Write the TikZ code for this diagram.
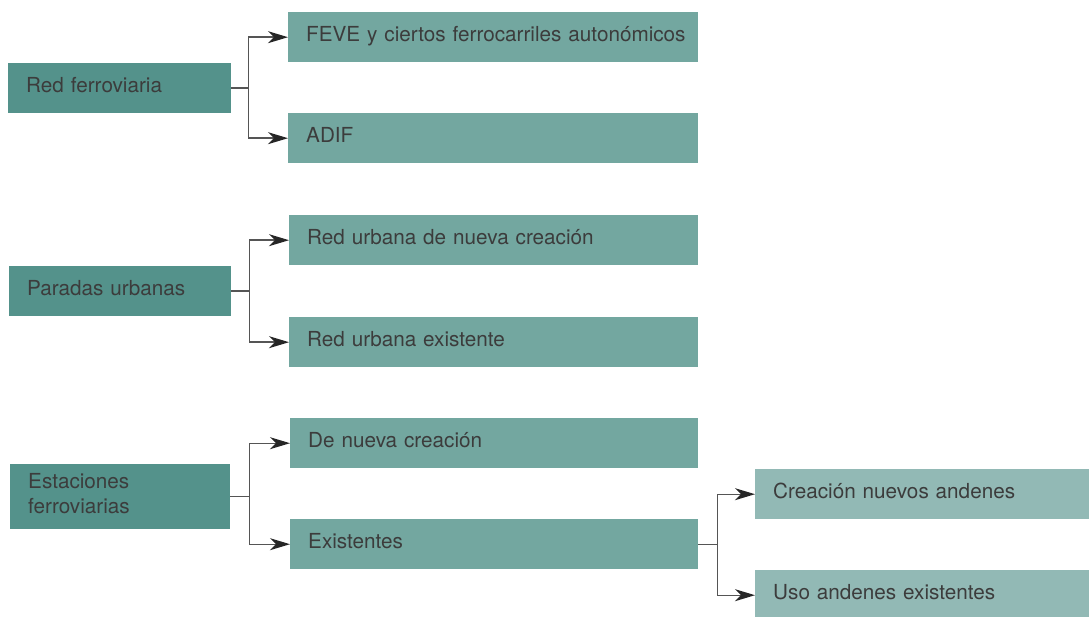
\documentclass[tikz,border=0pt]{standalone}
\usepackage{fontspec}
\setmainfont{TeX Gyre Heros}
\usetikzlibrary{arrows.meta}
\definecolor{cdark}{HTML}{54928B}
\definecolor{cmid}{HTML}{73A7A0}
\definecolor{clight}{HTML}{92B9B5}
\definecolor{ctext}{HTML}{3C3C3C}
\definecolor{cline}{HTML}{555555}
\newcommand{\ind}{\hspace*{18pt}}
\tikzset{
  box/.style 2 args={fill=#1, draw=none, anchor=north west, inner xsep=0pt, inner ysep=0pt,
    text width=#2, align=left, minimum height=50pt, text=ctext,
    text height=14pt, text depth=5pt,
    font=\fontsize{20.7}{25}\selectfont},
  conn/.style={draw=cline, line width=1.4pt},
  arr/.style={conn, -{Stealth[length=20pt,width=12pt,inset=6pt,color=black!85]}},
}
\begin{document}
\begin{tikzpicture}[x=1pt,y=-1pt]
\useasboundingbox (0,0) rectangle (1089,617);
% group 1
\node[box={cdark}{223pt}] (rf) at (8,63) {\ind Red ferroviaria};
\node[box={cmid}{410pt}] (feve) at (288,12) {\ind FEVE y ciertos ferrocarriles autonómicos};
\node[box={cmid}{410pt}] (adif) at (288,113) {\ind ADIF};
% group 2
\node[box={cdark}{222pt}] (pu) at (9,266) {\ind Paradas urbanas};
\node[box={cmid}{409pt}] (run) at (289,215) {\ind Red urbana de nueva creación};
\node[box={cmid}{409pt}] (rue) at (289,317) {\ind Red urbana existente};
% group 3
\node[box={cdark}{220pt}, minimum height=65pt, text depth=30pt] (ef) at (10,464) {\ind Estaciones\\\ind ferroviarias};
\node[box={cmid}{408pt}] (dnc) at (290,418) {\ind De nueva creación};
\node[box={cmid}{408pt}] (ex) at (290,519) {\ind Existentes};
% group 4
\node[box={clight}{334pt}] (cna) at (755,469) {\ind Creación nuevos andenes};
\node[box={clight}{334pt}] (uae) at (755,570) {\ind Uso andenes existentes};
% connectors
\draw[conn] (rf.east) -- ++(17,0) coordinate (j1);
\draw[arr] (j1) |- (feve.west);
\draw[arr] (j1) |- (adif.west);
\draw[conn] (pu.east) -- ++(18,0) coordinate (j2);
\draw[arr] (j2) |- (run.west);
\draw[arr] (j2) |- (rue.west);
\draw[conn] (ef.east) -- ++(19,0) coordinate (j3);
\draw[arr] (j3) |- (dnc.west);
\draw[arr] (j3) |- (ex.west);
\draw[conn] (ex.east) -- ++(19,0) coordinate (j4);
\draw[arr] (j4) |- (cna.west);
\draw[arr] (j4) |- (uae.west);
\end{tikzpicture}
\end{document}
